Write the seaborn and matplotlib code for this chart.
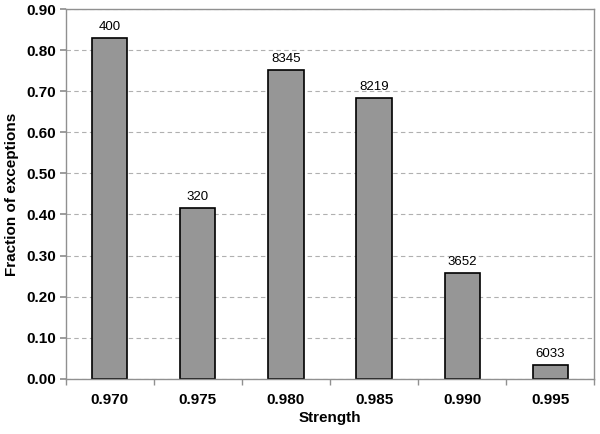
import numpy as np
import pandas as pd
from matplotlib import pyplot as plt
import seaborn as sns

sns.set_theme(style="white")
plt.rcParams['font.family'] = ['Liberation Sans', 'DejaVu Sans']
plt.rcParams['text.color'] = 'black'
plt.rcParams['axes.labelcolor'] = 'black'
plt.rcParams['xtick.color'] = 'black'
plt.rcParams['ytick.color'] = 'black'

strength = ["0.970", "0.975", "0.980", "0.985", "0.990", "0.995"]
fraction = [0.830, 0.416, 0.751, 0.684, 0.257, 0.033]
counts = [400, 320, 8345, 8219, 3652, 6033]

df = pd.DataFrame({"Strength": strength, "Fraction": fraction})

fig = plt.figure(figsize=(6, 4.34), dpi=100)
ax = fig.add_axes([0.1095, 0.1274, 0.881, 0.8516])

sns.barplot(data=df, x="Strength", y="Fraction", color="#969696",
            saturation=1, width=0.4, edgecolor="black", linewidth=1.2, ax=ax)

for i, (v, c) in enumerate(zip(fraction, counts)):
    ax.text(i, v + 0.012, str(c), ha="center", va="bottom", fontsize=9.5)

ax.set_ylim(0, 0.90)
ax.set_xlim(-0.5, 5.5)
ax.set_yticks(np.arange(0, 0.91, 0.1))
ax.set_yticklabels([f"{t:.2f}" for t in np.arange(0, 0.91, 0.1)],
                   fontsize=11, fontweight="bold")
ax.set_xticklabels(strength, fontsize=11, fontweight="bold")
ax.set_xlabel("Strength", fontsize=11, fontweight="bold", labelpad=3)
ax.set_ylabel("Fraction of exceptions", fontsize=11, fontweight="bold", labelpad=5)

ax.yaxis.grid(True, linestyle=(0, (4, 3)), color="#b0b0b0", linewidth=0.8)
ax.set_axisbelow(True)
for s in ax.spines.values():
    s.set_color("#909090")
    s.set_linewidth(1)

# ticks on x at category boundaries
ax.tick_params(axis="x", which="major", length=0, pad=10)
ax.set_xticks(np.arange(-0.5, 6, 1), minor=True)
ax.tick_params(axis="x", which="minor", length=4, color="#909090", direction="out", bottom=True)
ax.tick_params(axis="y", length=4, color="#909090", direction="out", left=True, pad=3)

fig.savefig("out.png", dpi=100)
